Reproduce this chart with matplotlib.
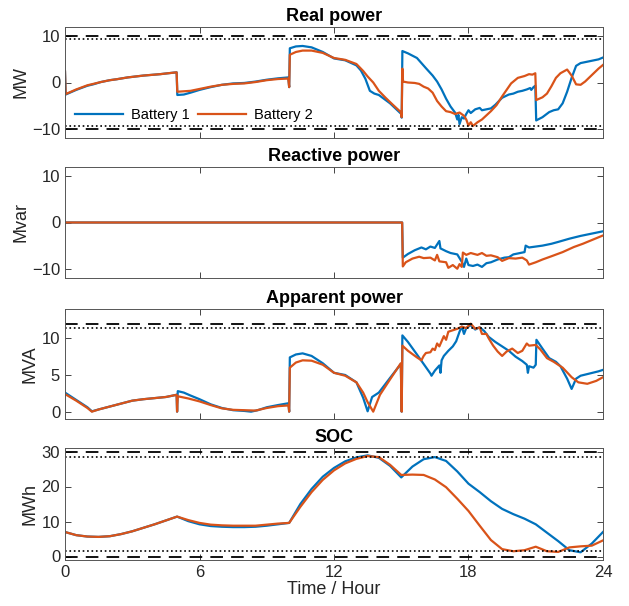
import numpy as np
import matplotlib
matplotlib.use('Agg')
import matplotlib.pyplot as plt

plt.rcParams['font.family'] = ['Liberation Sans', 'DejaVu Sans']

# --- Real power (MW) ---
t_p1 = [0, 0.03, 0.5, 1.0, 1.26, 1.6, 2.0, 2.3, 2.8, 3.5, 4.24, 4.6, 4.98,
        5.01, 5.3, 5.6, 6.0, 6.5, 7.0, 7.5, 8.0, 8.5, 9.0, 9.5, 9.96,
        10.0, 10.03, 10.3, 10.6, 11.0, 11.5, 12.0, 12.5, 13.0, 13.2, 13.4, 13.6, 13.8,
        14.0, 14.5, 15.0, 15.02, 15.05, 15.3, 15.7, 16.1, 16.4, 16.6, 16.8, 17.0,
        17.2, 17.4, 17.5, 17.55, 17.6, 17.7, 17.8, 17.9, 18.0, 18.1, 18.3, 18.5, 18.6,
        18.8, 19.0, 19.2, 19.5, 19.8, 20.0, 20.2, 20.4, 20.6, 20.75, 20.8, 20.9, 20.98,
        21.02, 21.3, 21.6, 21.8, 22.0, 22.2, 22.4, 22.6, 22.8, 23.0, 23.4, 23.8, 24.0]
p1 = [2.3, -2.6, -1.6, -0.7, -0.4, 0.1, 0.5, 0.7, 1.1, 1.5, 1.8, 2.0, 2.2,
      -2.7, -2.6, -2.2, -1.6, -1.0, -0.5, -0.2, -0.1, 0.2, 0.6, 0.9, 1.1,
      -1.0, 7.4, 7.8, 7.9, 7.6, 6.6, 5.2, 4.8, 3.7, 2.6, 0.8, -1.8, -2.4,
      -2.7, -4.5, -6.8, -7.6, 6.8, 6.3, 5.3, 3.1, 1.5, 0.2, -1.5, -3.5,
      -5.2, -6.5, -8.0, -7.0, -9.0, -7.5, -7.8, -6.8, -6.0, -6.6, -5.8, -5.5, -6.0,
      -5.8, -5.6, -4.8, -3.3, -2.6, -2.4, -2.0, -1.8, -1.5, -1.2, -1.6, -1.0, -0.7,
      -8.2, -7.5, -6.4, -6.0, -5.8, -4.5, -2.0, 1.0, 3.6, 4.2, 4.6, 5.0, 5.4]

t_p2 = [0, 0.03, 0.5, 1.0, 1.26, 1.6, 2.0, 2.3, 2.8, 3.5, 4.24, 4.6, 4.98,
        5.01, 5.3, 5.6, 6.0, 6.5, 7.0, 7.5, 8.0, 8.5, 9.0, 9.5, 9.96,
        10.0, 10.03, 10.3, 10.6, 11.0, 11.5, 12.0, 12.5, 13.0, 13.3, 13.5, 13.75,
        14.0, 14.3, 14.6, 15.0, 15.02, 15.05, 15.08, 15.3, 15.6, 15.8, 16.0, 16.2,
        16.4, 16.6, 16.8, 17.0, 17.2, 17.4, 17.6, 17.8, 17.9, 18.0, 18.1, 18.2,
        18.4, 18.6, 18.8, 19.0, 19.25, 19.5, 19.7, 19.9, 20.2, 20.5, 20.7, 20.85, 20.98,
        21.02, 21.3, 21.5, 21.7, 21.9, 22.1, 22.4, 22.6, 22.8, 23.0, 23.2, 23.5, 23.8, 24.0]
p2 = [2.4, -2.5, -1.5, -0.6, -0.3, 0.1, 0.5, 0.7, 1.1, 1.5, 1.8, 2.0, 2.2,
      -2.0, -1.9, -1.8, -1.4, -0.9, -0.5, -0.3, -0.2, 0.1, 0.5, 0.75, 0.85,
      -1.0, 6.0, 6.6, 6.9, 6.9, 6.4, 5.3, 4.9, 4.0, 2.5, 1.3, 0.0,
      -1.8, -3.3, -4.7, -6.5, -7.5, 3.0, 0.2, 0.0, -0.1, -0.3, -0.9, -1.3,
      -2.2, -4.0, -5.2, -6.2, -6.4, -6.8, -6.5, -7.2, -8.0, -9.3, -8.6, -9.4,
      -8.6, -8.0, -7.1, -6.2, -4.9, -3.0, -1.6, -0.2, 1.0, 1.4, 1.8, 1.7, 2.0,
      -3.8, -3.2, -2.4, -0.8, 1.0, 2.0, 2.8, 1.5, -0.4, -0.5, 0.2, 1.6, 3.0, 3.8]

# --- Reactive power (Mvar) ---
t_q1 = [0, 15.04, 15.07, 15.3, 15.6, 15.9, 16.1, 16.3, 16.5, 16.7, 16.75, 17.0, 17.2,
        17.5, 17.7, 17.8, 17.9, 18.0, 18.2, 18.4, 18.6, 18.8, 19.0, 19.3, 19.6, 19.8,
        20.0, 20.3, 20.5, 20.55, 20.7, 21.0, 21.3, 21.7, 22.0, 22.5, 23.0, 23.5, 24.0]
q1 = [0, 0, -7.6, -6.8, -6.0, -5.4, -5.8, -5.2, -5.5, -4.0, -5.6, -6.2, -6.6,
      -6.9, -8.5, -9.6, -7.8, -9.2, -9.4, -9.1, -9.6, -8.8, -8.6, -8.0, -7.6, -7.5,
      -6.9, -6.6, -6.4, -5.0, -5.4, -5.2, -5.0, -4.6, -4.2, -3.5, -2.9, -2.4, -1.9]

t_q2 = [0, 15.04, 15.07, 15.2, 15.5, 15.8, 16.0, 16.3, 16.5, 16.6, 16.7, 17.0, 17.1,
        17.3, 17.5, 17.6, 17.7, 17.75, 17.9, 18.1, 18.4, 18.6, 18.8, 19.0, 19.3, 19.5,
        19.8, 20.1, 20.4, 20.6, 20.7, 21.0, 21.3, 21.7, 22.2, 22.7, 23.1, 23.6, 24.0]
q2 = [0, 0, -9.5, -8.6, -7.8, -7.4, -7.7, -7.6, -8.2, -7.0, -8.4, -8.6, -9.8,
      -9.2, -10.0, -9.0, -9.6, -6.5, -7.0, -6.6, -7.0, -6.6, -7.2, -7.1, -7.5, -8.3,
      -7.7, -7.8, -7.6, -8.2, -9.1, -8.6, -8.0, -7.3, -6.4, -5.3, -4.6, -3.6, -2.8]

# --- Apparent power (MVA) ---
t_s1 = [0, 0.5, 1.0, 1.2, 1.5, 2.0, 2.5, 3.0, 3.5, 4.0, 4.5, 4.98, 5.0, 5.03, 5.3,
        5.6, 6.0, 6.5, 7.0, 7.5, 8.0, 8.3, 8.6, 9.0, 9.5, 9.97, 10.0, 10.03, 10.3,
        10.6, 11.0, 11.5, 12.0, 12.5, 13.0, 13.3, 13.5, 13.7, 14.0, 14.5, 14.98,
        15.02, 15.05, 15.3, 15.7, 16.0, 16.3, 16.35, 16.5, 16.7, 16.75, 16.8, 16.9,
        17.1, 17.3, 17.45, 17.6, 17.7, 17.8, 17.9, 18.1, 18.3, 18.5, 18.7, 18.9,
        19.2, 19.5, 19.8, 20.1, 20.4, 20.6, 20.65, 20.7, 20.9, 21.0, 21.03, 21.3,
        21.6, 21.9, 22.1, 22.4, 22.6, 22.8, 23.0, 23.4, 23.8, 24.0]
s1 = [2.6, 1.6, 0.6, 0.05, 0.3, 0.7, 1.1, 1.5, 1.7, 1.85, 2.0, 2.3, 0.0, 2.8, 2.6,
      2.2, 1.7, 1.0, 0.5, 0.2, 0.1, 0.0, 0.2, 0.6, 0.9, 1.15, 0.0, 7.4, 7.8,
      7.95, 7.6, 6.6, 5.3, 5.0, 4.0, 1.9, 0.05, 2.0, 2.6, 4.6, 6.5,
      0.0, 10.4, 9.5, 7.8, 6.5, 5.2, 4.9, 5.6, 6.3, 5.3, 7.0, 7.6,
      8.3, 8.9, 9.6, 10.9, 11.6, 10.6, 11.4, 11.8, 11.2, 11.5, 11.0, 10.2,
      9.5, 8.9, 8.3, 7.5, 6.9, 6.4, 5.3, 6.2, 6.0, 6.4, 9.8, 8.6,
      7.3, 6.8, 6.2, 4.5, 3.1, 4.5, 4.9, 5.2, 5.5, 5.7]

t_s2 = [0, 0.5, 1.0, 1.2, 1.5, 2.0, 2.5, 3.0, 3.5, 4.0, 4.5, 4.98, 5.0, 5.03, 5.5,
        6.0, 6.5, 7.0, 7.5, 8.0, 8.5, 9.0, 9.5, 9.97, 10.0, 10.03, 10.3, 10.6,
        11.0, 11.5, 12.0, 12.5, 13.0, 13.3, 13.5, 13.75, 14.05, 14.5, 14.98, 15.02,
        15.05, 15.3, 15.7, 15.9, 16.0, 16.1, 16.3, 16.4, 16.5, 16.6, 16.7, 16.9,
        17.0, 17.1, 17.3, 17.5, 17.7, 17.9, 18.1, 18.3, 18.5, 18.6, 18.8, 18.9,
        19.1, 19.3, 19.5, 19.7, 19.95, 20.2, 20.4, 20.6, 20.7, 21.0, 21.2, 21.5,
        21.8, 22.2, 22.6, 22.9, 23.3, 23.7, 24.0]
s2 = [2.4, 1.5, 0.5, 0.0, 0.3, 0.7, 1.1, 1.5, 1.7, 1.85, 2.0, 2.3, 0.0, 2.1, 1.8,
      1.4, 0.9, 0.45, 0.25, 0.2, 0.15, 0.5, 0.75, 0.85, 0.0, 6.0, 6.7, 7.0,
      6.95, 6.4, 5.3, 4.9, 4.0, 2.6, 1.3, 0.0, 2.3, 4.4, 6.6, 0.0,
      9.0, 8.3, 7.4, 7.0, 7.6, 8.0, 8.1, 8.6, 8.4, 9.3, 8.9, 10.3,
      9.8, 10.9, 11.1, 11.3, 11.6, 11.4, 12.0, 11.3, 11.5, 10.6, 10.6, 10.0,
      9.0, 8.2, 7.6, 8.2, 8.6, 8.0, 8.3, 9.3, 9.0, 9.1, 8.5, 7.3,
      6.8, 6.0, 4.7, 4.0, 3.8, 4.2, 4.7]

# --- State of charge (MWh) ---
t_soc = [0, 0.5, 1.0, 1.5, 2.0, 2.5, 3.0, 3.5, 4.0, 4.5, 5.0, 5.5, 6.0, 6.5, 7.0,
         7.5, 8.0, 8.5, 9.0, 9.5, 10.0, 10.5, 11.0, 11.5, 12.0, 12.5, 13.0, 13.5,
         14.0, 14.5, 15.0, 15.5, 16.0, 16.5, 17.0, 17.5, 18.0, 18.5, 19.0, 19.5,
         20.0, 20.5, 21.0, 21.5, 22.0, 22.5, 23.0, 23.5, 24.0]
soc1 = [7.0, 6.1, 5.7, 5.6, 5.8, 6.4, 7.2, 8.2, 9.2, 10.3, 11.4, 10.1, 9.2, 8.7, 8.5,
        8.4, 8.4, 8.5, 8.8, 9.2, 9.6, 15.0, 19.3, 22.8, 25.3, 27.2, 28.3, 28.9,
        28.2, 25.9, 22.6, 25.7, 27.8, 28.4, 27.3, 24.3, 20.8, 18.4, 15.8, 13.6,
        12.1, 10.8, 9.2, 6.8, 4.4, 1.8, 1.2, 3.7, 7.0]
soc2 = [7.0, 6.1, 5.7, 5.6, 5.8, 6.4, 7.2, 8.2, 9.2, 10.3, 11.4, 10.4, 9.6, 9.1, 8.9,
        8.8, 8.8, 8.8, 9.1, 9.4, 9.6, 14.2, 18.4, 21.9, 24.6, 26.6, 27.9, 28.7,
        28.4, 26.2, 23.3, 23.4, 23.3, 22.0, 19.8, 16.5, 13.0, 8.8, 4.7, 2.1,
        1.5, 1.8, 2.8, 1.5, 1.3, 2.6, 2.9, 3.1, 4.6]

blue = '#0072BD'
orange = '#D95319'
ink = '#262626'

fig = plt.figure(figsize=(6.29, 6.06), dpi=100)
left, width = 65 / 629, 538 / 629
boxes = [(27, 138), (167, 278), (309, 419), (448, 560)]
axes = [fig.add_axes([left, 1 - b / 606, width, (b - t) / 606]) for t, b in boxes]

series = [
    (t_p1, p1, t_p2, p2, 'Real power', 'MW', (-12, 12), [-10, 0, 10]),
    (t_q1, q1, t_q2, q2, 'Reactive power', 'Mvar', (-12, 12), [-10, 0, 10]),
    (t_s1, s1, t_s2, s2, 'Apparent power', 'MVA', (-1, 14), [0, 5, 10]),
    (t_soc, soc1, t_soc, soc2, 'SOC', 'MWh', (-1, 31), [0, 10, 20, 30]),
]

lw = 1.6
for ax, (ta, ya, tb, yb, title, unit, ylim, yt) in zip(axes, series):
    ax.plot(ta, ya, color=blue, lw=lw, label='Battery 1')
    ax.plot(tb, yb, color=orange, lw=lw, label='Battery 2')
    ax.set_xlim(0, 24)
    ax.set_ylim(*ylim)
    ax.set_yticks(yt)
    ax.set_xticks([0, 6, 12, 18, 24])
    ax.set_title(title, fontsize=13, fontweight='bold', pad=4)
    ax.set_ylabel(unit, fontsize=13, color=ink, labelpad=2)
    ax.tick_params(direction='in', top=True, right=True, length=4, width=0.6,
                   labelsize=12, colors=ink)
    for sp in ax.spines.values():
        sp.set_color('#555555')
        sp.set_linewidth(0.7)
    if ax is not axes[-1]:
        ax.set_xticklabels([])

# Limit lines: dashed = rating, dotted = 95 %
dash = (0, (7, 4.5))
for y in (10, -10):
    axes[0].axhline(y, color='black', ls=dash, lw=1.3)
for y in (9.5, -9.5):
    axes[0].axhline(y, color='black', ls=':', lw=1.2)
axes[2].axhline(12, color='black', ls=dash, lw=1.3)
axes[2].axhline(11.4, color='black', ls=':', lw=1.2)
for y in (30, 0):
    axes[3].axhline(y, color='black', ls=dash, lw=1.3)
for y in (28.5, 1.5):
    axes[3].axhline(y, color='black', ls=':', lw=1.2)

axes[3].set_xlabel('Time / Hour', fontsize=13, color=ink, labelpad=1)

axes[0].legend(loc='lower left', bbox_to_anchor=(0.0, 0.05), ncol=2, frameon=False,
               fontsize=10.5, handlelength=3.3, columnspacing=0.6, handletextpad=0.5,
               borderaxespad=0.3)

fig.savefig('out.png', dpi=100)
